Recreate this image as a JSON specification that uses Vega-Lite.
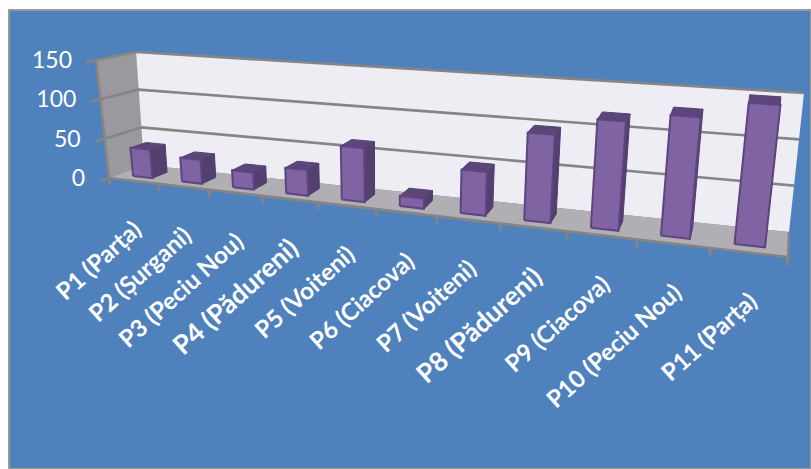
{
  "$schema": "https://vega.github.io/schema/vega-lite/v6.json",
  "width": 802,
  "height": 459,
  "autosize": "none",
  "padding": {"left": 9, "top": 10, "right": 0, "bottom": 0},
  "background": "#ffffff",
  "view": {"fill": "#4f81bd", "stroke": "#9a9a9a", "strokeWidth": 2},
  "datasets": {
    "sites": [
      {"site": "P1 (Parța)", "slot": 0, "value": 36},
      {"site": "P2 (Șurgani)", "slot": 1, "value": 30},
      {"site": "P3 (Peciu Nou)", "slot": 2, "value": 21},
      {"site": "P4 (Pădureni)", "slot": 3, "value": 31},
      {"site": "P5 (Voiteni)", "slot": 4, "value": 64},
      {"site": "P6 (Ciacova)", "slot": 5, "value": 12},
      {"site": "P7 (Voiteni)", "slot": 6, "value": 50},
      {"site": "P8 (Pădureni)", "slot": 7, "value": 99},
      {"site": "P9 (Ciacova)", "slot": 8, "value": 120},
      {"site": "P10 (Peciu Nou)", "slot": 9, "value": 131},
      {"site": "P11 (Parța)", "slot": 10, "value": 150}
    ],
    "frame": [
      {"part": "floor", "kind": "floor", "n": 0, "u": 0, "w": 0, "v": 0},
      {"part": "floor", "kind": "floor", "n": 1, "u": 11, "w": 0, "v": 0},
      {"part": "floor", "kind": "floor", "n": 2, "u": 11, "w": 1, "v": 0},
      {"part": "floor", "kind": "floor", "n": 3, "u": 0, "w": 1, "v": 0},
      {"part": "back", "kind": "back", "n": 0, "u": 0, "w": 1, "v": 0},
      {"part": "back", "kind": "back", "n": 1, "u": 11, "w": 1, "v": 0},
      {"part": "back", "kind": "back", "n": 2, "u": 11, "w": 1, "v": 150},
      {"part": "back", "kind": "back", "n": 3, "u": 0, "w": 1, "v": 150},
      {"part": "side", "kind": "side", "n": 0, "u": 0, "w": 0, "v": 0},
      {"part": "side", "kind": "side", "n": 1, "u": 0, "w": 1, "v": 0},
      {"part": "side", "kind": "side", "n": 2, "u": 0, "w": 1, "v": 150},
      {"part": "side", "kind": "side", "n": 3, "u": 0, "w": 0, "v": 150},
      {"part": "g50", "kind": "line", "n": 0, "u": 0, "w": -0.25, "v": 50},
      {"part": "g50", "kind": "line", "n": 1, "u": 0, "w": 0, "v": 50},
      {"part": "g50", "kind": "line", "n": 2, "u": 0, "w": 1, "v": 50},
      {"part": "g50", "kind": "line", "n": 3, "u": 11, "w": 1, "v": 50},
      {"part": "g100", "kind": "line", "n": 0, "u": 0, "w": -0.25, "v": 100},
      {"part": "g100", "kind": "line", "n": 1, "u": 0, "w": 0, "v": 100},
      {"part": "g100", "kind": "line", "n": 2, "u": 0, "w": 1, "v": 100},
      {"part": "g100", "kind": "line", "n": 3, "u": 11, "w": 1, "v": 100},
      {"part": "g150", "kind": "line", "n": 0, "u": 0, "w": -0.25, "v": 150},
      {"part": "g150", "kind": "line", "n": 1, "u": 0, "w": 0, "v": 150},
      {"part": "g150", "kind": "line", "n": 2, "u": 0, "w": 1, "v": 150},
      {"part": "g150", "kind": "line", "n": 3, "u": 11, "w": 1, "v": 150},
      {"part": "g0", "kind": "line", "n": 0, "u": 0, "w": -0.25, "v": 0},
      {"part": "g0", "kind": "line", "n": 1, "u": 0, "w": 0, "v": 0},
      {"part": "g0", "kind": "line", "n": 2, "u": 11, "w": 0, "v": 0},
      {"part": "g0", "kind": "line", "n": 3, "u": 11, "w": 1, "v": 0},
      {"part": "axis", "kind": "line", "n": 0, "u": 0, "w": 0, "v": 0},
      {"part": "axis", "kind": "line", "n": 1, "u": 0, "w": 0, "v": 150},
      {"part": "t0", "kind": "line", "n": 0, "u": 0, "w": 0, "v": 0},
      {"part": "t0", "kind": "line", "n": 1, "u": 0, "w": 0, "v": -9},
      {"part": "t1", "kind": "line", "n": 0, "u": 1, "w": 0, "v": 0},
      {"part": "t1", "kind": "line", "n": 1, "u": 1, "w": 0, "v": -9},
      {"part": "t2", "kind": "line", "n": 0, "u": 2, "w": 0, "v": 0},
      {"part": "t2", "kind": "line", "n": 1, "u": 2, "w": 0, "v": -9},
      {"part": "t3", "kind": "line", "n": 0, "u": 3, "w": 0, "v": 0},
      {"part": "t3", "kind": "line", "n": 1, "u": 3, "w": 0, "v": -9},
      {"part": "t4", "kind": "line", "n": 0, "u": 4, "w": 0, "v": 0},
      {"part": "t4", "kind": "line", "n": 1, "u": 4, "w": 0, "v": -9},
      {"part": "t5", "kind": "line", "n": 0, "u": 5, "w": 0, "v": 0},
      {"part": "t5", "kind": "line", "n": 1, "u": 5, "w": 0, "v": -9},
      {"part": "t6", "kind": "line", "n": 0, "u": 6, "w": 0, "v": 0},
      {"part": "t6", "kind": "line", "n": 1, "u": 6, "w": 0, "v": -9},
      {"part": "t7", "kind": "line", "n": 0, "u": 7, "w": 0, "v": 0},
      {"part": "t7", "kind": "line", "n": 1, "u": 7, "w": 0, "v": -9},
      {"part": "t8", "kind": "line", "n": 0, "u": 8, "w": 0, "v": 0},
      {"part": "t8", "kind": "line", "n": 1, "u": 8, "w": 0, "v": -9},
      {"part": "t9", "kind": "line", "n": 0, "u": 9, "w": 0, "v": 0},
      {"part": "t9", "kind": "line", "n": 1, "u": 9, "w": 0, "v": -9},
      {"part": "t10", "kind": "line", "n": 0, "u": 10, "w": 0, "v": 0},
      {"part": "t10", "kind": "line", "n": 1, "u": 10, "w": 0, "v": -9},
      {"part": "t11", "kind": "line", "n": 0, "u": 11, "w": 0, "v": 0},
      {"part": "t11", "kind": "line", "n": 1, "u": 11, "w": 0, "v": -9},
      {"part": "l0", "kind": "label", "n": 0, "u": 0, "w": 0, "v": 0, "text": "0"},
      {"part": "l50", "kind": "label", "n": 0, "u": 0, "w": 0, "v": 50, "text": "50"},
      {"part": "l100", "kind": "label", "n": 0, "u": 0, "w": 0, "v": 100, "text": "100"},
      {"part": "l150", "kind": "label", "n": 0, "u": 0, "w": 0, "v": 150, "text": "150"}
    ]
  },
  "encoding": {
    "x": {"field": "px", "type": "quantitative", "axis": null, "scale": {"domain": [9, 811], "nice": false, "zero": false}},
    "y": {"field": "py", "type": "quantitative", "axis": null, "scale": {"domain": [469, 10], "nice": false, "zero": false}}
  },
  "layer": [
    {
      "data": {"name": "frame"},
      "transform": [
        {"calculate": "0.778 * datum.u / (0.778 * datum.u + 11 - datum.u)", "as": "t"},
        {"calculate": "datum.v / 150", "as": "h"},
        {"calculate": "(1 - datum.h) * ((1 - datum.w) * (109 + 679 * datum.t) + datum.w * (144 + 645 * datum.t)) + datum.h * ((1 - datum.w) * (96 + 709 * datum.t) + datum.w * (136 + 668 * datum.t))", "as": "px"},
        {"calculate": "(1 - datum.h) * ((1 - datum.w) * (178 + 79 * datum.t) + datum.w * (165 + 67 * datum.t)) + datum.h * ((1 - datum.w) * (60 + 52 * datum.t) + datum.w * (52 + 41 * datum.t))", "as": "py"}
      ],
      "layer": [
        {
          "transform": [{"filter": "datum.kind === 'side'"}],
          "mark": {"type": "line", "fill": "#9a999e", "stroke": null},
          "encoding": {"order": {"field": "n", "type": "quantitative"}}
        },
        {
          "transform": [{"filter": "datum.kind === 'back'"}],
          "mark": {"type": "line", "fill": "#eeedf3", "stroke": null},
          "encoding": {"order": {"field": "n", "type": "quantitative"}}
        },
        {
          "transform": [{"filter": "datum.kind === 'floor'"}],
          "mark": {"type": "line", "fill": "#b1afb4", "stroke": null},
          "encoding": {"order": {"field": "n", "type": "quantitative"}}
        },
        {
          "transform": [{"filter": "datum.kind === 'line'"}],
          "mark": {"type": "line", "stroke": "#858585", "strokeWidth": 2.6},
          "encoding": {
            "detail": {"field": "part"},
            "order": {"field": "n", "type": "quantitative"}
          }
        },
        {
          "transform": [{"filter": "datum.kind === 'label'"}],
          "mark": {"type": "text", "align": "right", "baseline": "middle", "dx": -24, "dy": 1, "font": "Lato", "fontSize": 23, "fill": "#ffffff"},
          "encoding": {"text": {"field": "text"}}
        }
      ]
    },
    {
      "data": {"name": "sites"},
      "transform": [
        {"calculate": "['front', 'side', 'top', 'label']", "as": "face"},
        {"flatten": ["face"]},
        {"calculate": "[0, 1, 2, 3, 4]", "as": "corner"},
        {"flatten": ["corner"]},
        {"calculate": "(datum.corner % 4 === 1 || datum.corner % 4 === 2) ? 1 : 0", "as": "a"},
        {"calculate": "(datum.corner % 4 >= 2) ? 1 : 0", "as": "b"},
        {"calculate": "datum.slot + 0.5 + (datum.face === 'label' ? 0 : datum.face === 'side' ? 0.2 : (datum.a ? 0.2 : -0.2))", "as": "u"},
        {"calculate": "datum.face === 'label' ? 0 : datum.face === 'front' ? 0.28 : datum.face === 'side' ? (datum.a ? 0.72 : 0.28) : (datum.b ? 0.72 : 0.28)", "as": "w"},
        {"calculate": "datum.face === 'label' ? 0 : datum.face === 'top' ? datum.value : (datum.b ? datum.value : 0)", "as": "v"},
        {"calculate": "0.778 * datum.u / (0.778 * datum.u + 11 - datum.u)", "as": "t"},
        {"calculate": "datum.v / 150", "as": "h"},
        {"calculate": "(1 - datum.h) * ((1 - datum.w) * (109 + 679 * datum.t) + datum.w * (144 + 645 * datum.t)) + datum.h * ((1 - datum.w) * (96 + 709 * datum.t) + datum.w * (136 + 668 * datum.t))", "as": "px"},
        {"calculate": "(1 - datum.h) * ((1 - datum.w) * (178 + 79 * datum.t) + datum.w * (165 + 67 * datum.t)) + datum.h * ((1 - datum.w) * (60 + 52 * datum.t) + datum.w * (52 + 41 * datum.t))", "as": "py"}
      ],
      "layer": [
        {
          "transform": [{"filter": "datum.face === 'side'"}],
          "mark": {"type": "line", "fill": "#53406f", "stroke": "#513d6e", "strokeWidth": 1},
          "encoding": {"detail": {"field": "site"}, "order": {"field": "corner", "type": "quantitative"}}
        },
        {
          "transform": [{"filter": "datum.face === 'top'"}],
          "mark": {"type": "line", "fill": "#5c4679", "stroke": "#574274", "strokeWidth": 1},
          "encoding": {"detail": {"field": "site"}, "order": {"field": "corner", "type": "quantitative"}}
        },
        {
          "transform": [{"filter": "datum.face === 'front'"}],
          "mark": {"type": "line", "fill": "#8063a3", "stroke": "#5e4480", "strokeWidth": 2},
          "encoding": {"detail": {"field": "site"}, "order": {"field": "corner", "type": "quantitative"}}
        },
        {
          "transform": [{"filter": "datum.face === 'label' && datum.corner === 0"}],
          "mark": {"type": "text", "align": "right", "baseline": "middle", "angle": 318, "dx": -27, "dy": 37.5, "font": "Lato", "fontWeight": "bold", "fill": "#ffffff"},
          "encoding": {
            "text": {"field": "site"},
            "size": {"condition": {"test": "indexof(datum.site, 'ă') >= 0", "value": 26.5}, "value": 24}
          }
        }
      ]
    }
  ]
}
